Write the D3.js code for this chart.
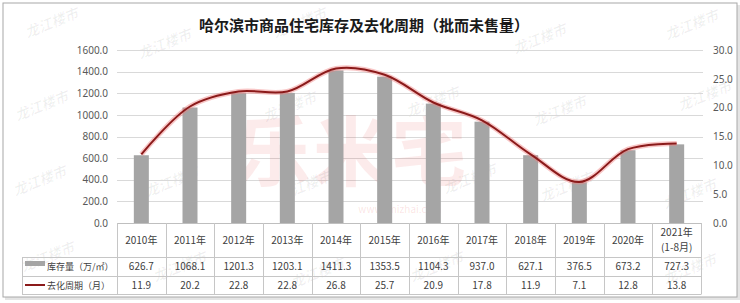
<!DOCTYPE html>
<html>
<head>
<meta charset="utf-8">
<script src="https://cdn.jsdelivr.net/npm/d3@7"></script>
<style>
  body { margin: 0; background: #fff; }
  svg { display: block; font-family: "Noto Sans CJK SC", "Noto Sans", sans-serif; }
</style>
</head>
<body>
<script>
// data
var years = ['2010年', '2011年', '2012年', '2013年', '2014年', '2015年', '2016年', '2017年', '2018年', '2019年', '2020年', '2021年|(1-8月)'];
var stock = [626.7, 1068.1, 1201.3, 1203.1, 1411.3, 1353.5, 1104.3, 937.0, 627.1, 376.5, 673.2, 727.3];
var cycle = [11.9, 20.2, 22.8, 22.8, 26.8, 25.7, 20.9, 17.8, 11.9, 7.1, 12.8, 13.8];
var leftTicks = [0, 200, 400, 600, 800, 1000, 1200, 1400, 1600];
var rightTicks = [0, 5, 10, 15, 20, 25, 30];
var seriesNames = ['库存量（万/㎡）', '去化周期（月）'];

var W = 740, H = 303;
var svg = d3.select('body').append('svg').attr('width', W).attr('height', H);

// outer frame with a soft shadow
svg.append('rect').attr('x', 5).attr('y', 5).attr('width', 735).attr('height', 295).attr('fill', '#e4e4e4');
svg.append('rect').attr('x', 3).attr('y', 3).attr('width', 734).attr('height', 294)
  .attr('fill', '#fff').attr('stroke', '#a8a8a8').attr('stroke-width', 1);

var x = d3.scaleBand().domain(years).range([117, 701]);
var y = d3.scaleLinear().domain([0, 1600]).range([223, 50]);
var y2 = d3.scaleLinear().domain([0, 30]).range([223, 50]);

// watermarks
var wm = [[52, 24], [165, 45], [300, 24], [540, 40], [692, 26], [42, 107], [40, 182], [48, 258],
  [180, 268], [318, 274], [437, 268], [690, 270], [290, 108], [433, 103], [172, 183], [567, 188],
  [690, 195], [705, 97], [305, 187], [470, 180], [560, 112]];
svg.append('g').selectAll('text').data(wm).enter().append('text')
  .attr('transform', function (d) { return 'translate(' + d[0] + ',' + d[1] + ') rotate(-22)'; })
  .attr('text-anchor', 'middle').attr('dominant-baseline', 'middle')
  .attr('font-size', 14).attr('font-weight', 'bold').attr('font-style', 'italic')
  .attr('fill', '#000').attr('fill-opacity', 0.06)
  .text('龙江楼市');

// gridlines
svg.append('g').selectAll('line').data(leftTicks.slice(1)).enter().append('line')
  .attr('x1', 117).attr('x2', 703)
  .attr('y1', function (d) { return Math.round(y(d)) + 0.5; })
  .attr('y2', function (d) { return Math.round(y(d)) + 0.5; })
  .attr('stroke', '#d9d9d9').attr('stroke-width', 1);

// big faint watermark
svg.append('text').attr('x', 352).attr('y', 180).attr('text-anchor', 'middle')
  .attr('font-size', 76).attr('font-weight', 'bold').attr('fill', '#e23c3c').attr('fill-opacity', 0.1)
  .attr('letter-spacing', 2).text('乐米宅');
svg.append('text').attr('x', 400).attr('y', 213).attr('text-anchor', 'middle')
  .attr('font-size', 10).attr('fill', '#e23c3c').attr('fill-opacity', 0.14)
  .text('www.lmizhai.com');

// left axis
var la = svg.append('g').attr('transform', 'translate(110,0)')
  .call(d3.axisLeft(y).tickValues(leftTicks).tickSize(0).tickPadding(2).tickFormat(d3.format('.1f')));
la.select('.domain').remove();
la.selectAll('text').attr('font-size', 10).attr('fill', '#595959').attr('font-family', 'Noto Sans, sans-serif');

// right axis
var ra = svg.append('g').attr('transform', 'translate(711,0)')
  .call(d3.axisRight(y2).tickValues(rightTicks).tickSize(0).tickPadding(2).tickFormat(d3.format('.1f')));
ra.select('.domain').remove();
ra.selectAll('text').attr('font-size', 10).attr('fill', '#595959').attr('font-family', 'Noto Sans, sans-serif');

// bars
var bw = 15;
svg.append('g').selectAll('rect').data(stock).enter().append('rect')
  .attr('x', function (d, i) { return x(years[i]) + x.bandwidth() / 2 - bw / 2; })
  .attr('y', function (d) { return y(d); })
  .attr('width', bw)
  .attr('height', function (d) { return y(0) - y(d); })
  .attr('fill', '#a5a5a5');

// smoothed line with glow
var line = d3.line()
  .x(function (d, i) { return x(years[i]) + x.bandwidth() / 2; })
  .y(function (d) { return y2(d); })
  .curve(d3.curveCatmullRom.alpha(0.5));
svg.append('path').datum(cycle).attr('d', line).attr('fill', 'none')
  .attr('stroke', '#f08080').attr('stroke-opacity', 0.45).attr('stroke-width', 5);
svg.append('path').datum(cycle).attr('d', line).attr('fill', 'none')
  .attr('stroke', '#8b1a1a').attr('stroke-width', 2);

// data table
var tbl = svg.append('g').attr('stroke', '#c6c6c6').attr('stroke-width', 1);
var rowY = [223, 257, 276, 294];
tbl.append('line').attr('x1', 117).attr('x2', 701).attr('y1', 223.5).attr('y2', 223.5).attr('stroke', '#bfbfbf');
rowY.slice(1).forEach(function (ry) {
  tbl.append('line').attr('x1', 22).attr('x2', 701).attr('y1', ry + 0.5).attr('y2', ry + 0.5);
});
tbl.append('line').attr('x1', 22.5).attr('x2', 22.5).attr('y1', 257).attr('y2', 294.5);
years.forEach(function (c) {
  var xx = Math.round(x(c)) + 0.5;
  tbl.append('line').attr('x1', xx).attr('x2', xx).attr('y1', 223).attr('y2', 294.5);
});
tbl.append('line').attr('x1', 701.5).attr('x2', 701.5).attr('y1', 223).attr('y2', 294.5);

// header labels
var head = svg.append('g').attr('font-size', 10).attr('fill', '#404040').attr('text-anchor', 'middle');
years.forEach(function (c) {
  var parts = c.split('|');
  var cx = x(c) + x.bandwidth() / 2;
  if (parts.length === 1) {
    head.append('text').attr('x', cx).attr('y', 244).text(parts[0]);
  } else {
    head.append('text').attr('x', cx).attr('y', 236).text(parts[0]);
    head.append('text').attr('x', cx).attr('y', 251).text(parts[1]);
  }
});

// value rows
var rows = [stock, cycle];
rows.forEach(function (vals, r) {
  svg.append('g').selectAll('text').data(vals).enter().append('text')
    .attr('x', function (d, i) { return x(years[i]) + x.bandwidth() / 2; })
    .attr('y', r === 0 ? 270 : 289)
    .attr('text-anchor', 'middle').attr('font-size', 10).attr('fill', '#404040')
    .text(function (d) { return d.toFixed(1); });
});

// legend keys inside the table
svg.append('rect').attr('x', 25).attr('y', 261).attr('width', 20).attr('height', 5).attr('fill', '#a5a5a5');
svg.append('line').attr('x1', 25).attr('x2', 45).attr('y1', 285).attr('y2', 285)
  .attr('stroke', '#8b1a1a').attr('stroke-width', 2);
svg.append('text').attr('x', 47).attr('y', 270).attr('font-size', 9).attr('fill', '#404040').text(seriesNames[0]);
svg.append('text').attr('x', 47).attr('y', 289).attr('font-size', 9).attr('fill', '#404040').text(seriesNames[1]);

// title
svg.append('text').attr('x', 364).attr('y', 31).attr('text-anchor', 'middle')
  .attr('font-size', 15).attr('font-weight', 'bold').attr('fill', '#1a1a1a')
  .text('哈尔滨市商品住宅库存及去化周期（批而未售量）');
</script>
</body>
</html>
